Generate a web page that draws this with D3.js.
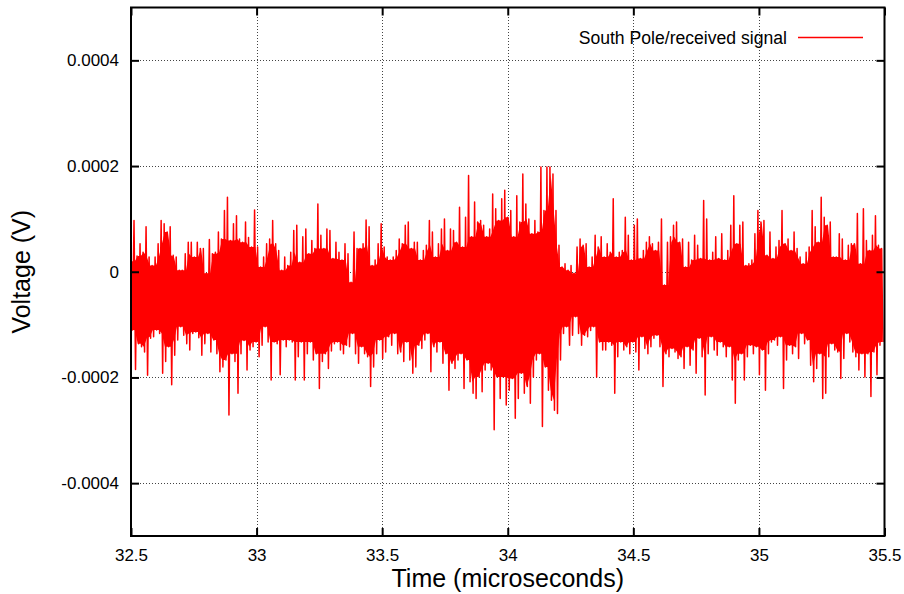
<!DOCTYPE html>
<html>
<head>
<meta charset="utf-8">
<script src="https://cdn.jsdelivr.net/npm/d3@7"></script>
<style>
    body { margin: 0; background: #fff; }
    svg { display: block; font-family: "Liberation Sans", Arial, sans-serif; }
    .grid line { stroke: #444; stroke-width: 1; stroke-dasharray: 1,2; shape-rendering: crispEdges; }
</style>
</head>
<body>
<svg id="chart" width="904" height="594"></svg>
<script>
// sampled waveform, read off the picture (microvolts)
// each pair = one local maximum followed by one local minimum
const timeStart = 32.5;
const timeEnd = 35.5;
const sampleStep = 0.006; // microseconds between samples

const peakUV = [
    20, 97, 30, 53, 37, 85, 28, 12, 28, 53, 97, 91, 75, 85, 31, 28, 3, 3, 34, 56, 56, 28, 56, 44, 44, -3, 61, 34, 37, 75, 62, 116,
    141, 59, 91, 106, 62, 56, 94, 65, 47, 117, 47, 9, 28, 53, 62, 97, 53, 40, 3, 28, 12, 37, 78, 88, 18, 66, 81, 34, 59, 44, 128,
    69, 44, 81, 78, 25, 56, 37, 22, 53, 34, -20, 75, 44, 44, 53, 98, 85, 12, 22, 53, 91, 47, 28, 22, 28, 40, 62, 53, 88, 94, 44,
    56, 56, 22, 40, 50, 97, 75, 28, 53, 81, 100, 40, 81, 78, 56, 122, 47, 103, 182, 66, 132, 94, 97, 88, 66, 81, 147, 119, 97, 138, 154,
    103, 116, 66, 144, 94, 185, 128, 100, 72, 97, 75, 198, 116, 198, 198, 185, 116, 50, 9, 15, 3, 12, -3, 47, 62, 50, 53, 9, 28, 69, 47, 66,
    28, 53, 37, 138, 28, 37, 40, 103, 69, 22, 88, 100, 25, 40, 56, 66, 53, 40, 56, 100, -25, 56, 66, 88, 94, 56, 62, 9, 56, 22, 69,
    50, 25, 135, 100, 22, 37, 66, 25, 72, 22, 40, 88, 144, 53, 88, 94, 12, 15, 22, 72, 116, 94, 97, 31, 75, 25, 47, 59, 116, 53, 62,
    40, 75, 44, 28, 15, 37, 47, 116, 85, 56, 141, 103, 88, 94, 28, 28, 72, 62, 22, 50, 53, 53, 110, 15, 119, 59, 40, 69, 106, 50, 44
];

const troughUV = [
    -110, -185, -136, -142, -152, -196, -126, -123, -110, -117, -192, -170, -142, -214, -158, -129, -104, -120, -136, -148, -117, -114, -125, -158, -136, -117, -152, -129, -155, -189, -180, -167,
    -271, -155, -170, -230, -155, -130, -186, -148, -142, -133, -161, -139, -104, -133, -205, -133, -136, -195, -129, -142, -129, -133, -205, -161, -133, -205, -155, -133, -167, -155, -221,
    -170, -155, -183, -150, -136, -133, -148, -155, -139, -142, -117, -155, -173, -142, -155, -161, -217, -180, -155, -129, -164, -152, -123, -139, -117, -155, -152, -170, -133, -167, -192,
    -180, -139, -145, -129, -117, -189, -142, -152, -133, -173, -155, -224, -173, -183, -167, -155, -221, -167, -208, -230, -240, -199, -227, -186, -173, -186, -299, -199, -240, -199, -252,
    -224, -202, -277, -240, -192, -230, -217, -249, -199, -167, -155, -293, -180, -224, -243, -262, -268, -167, -117, -104, -139, -120, -85, -117, -139, -120, -123, -111, -104, -199, -133, -148,
    -148, -133, -139, -230, -161, -133, -148, -142, -155, -133, -152, -186, -123, -145, -155, -142, -126, -120, -142, -217, -155, -161, -145, -152, -164, -161, -183, -142, -177, -148, -192,
    -126, -161, -233, -155, -123, -148, -158, -133, -142, -161, -142, -205, -249, -167, -155, -205, -161, -139, -155, -142, -195, -148, -224, -155, -133, -129, -139, -123, -221, -167, -139,
    -155, -142, -164, -117, -136, -129, -177, -208, -183, -155, -240, -230, -161, -136, -148, -152, -202, -164, -117, -133, -152, -161, -186, -155, -199, -155, -236, -152, -195, -139, -133
];

const xTicks = [32.5, 33, 33.5, 34, 34.5, 35, 35.5];
const yTicks = [-0.0004, -0.0002, 0, 0.0002, 0.0004];
const seriesLabel = "South Pole/received signal";
const xTitle = "Time (microseconds)";
const yTitle = "Voltage (V)";

// plot box
const plot = { left: 131, right: 884.5, top: 7.5, bottom: 536 };
const lineColor = "#ff0000";

const svg = d3.select("#chart");

const xScale = d3.scaleLinear()
    .domain([timeStart, timeEnd])
    .range([plot.left, plot.right]);

const yScale = d3.scaleLinear()
    .domain([-0.0005, 0.0005])
    .range([plot.bottom, plot.top]);

// build the time series from the max/min pairs
const signal = [];
peakUV.forEach((p, i) => {
    signal.push({ t: timeStart + 2 * i * sampleStep, v: p * 1e-6 });
    signal.push({ t: timeStart + (2 * i + 1) * sampleStep, v: troughUV[i] * 1e-6 });
});

// the dense core: where neighbouring oscillations always overlap
const core = peakUV.map((p, i) => {
    const lo = Math.max(i - 1, 0);
    const hi = Math.min(i + 2, peakUV.length);
    return {
        t: timeStart + (2 * i + 0.5) * sampleStep,
        top: d3.min(peakUV.slice(lo, hi)) * 1e-6,
        bottom: d3.max(troughUV.slice(lo, hi)) * 1e-6
    };
});

// grid
const grid = svg.append("g").attr("class", "grid");
grid.selectAll(".gx")
    .data(xTicks.slice(1, -1))
    .join("line")
    .attr("class", "gx")
    .attr("x1", d => Math.round(xScale(d)) + 0.5).attr("x2", d => Math.round(xScale(d)) + 0.5)
    .attr("y1", plot.top).attr("y2", plot.bottom);
grid.selectAll(".gy")
    .data(yTicks)
    .join("line")
    .attr("class", "gy")
    .attr("x1", plot.left).attr("x2", plot.right)
    .attr("y1", d => Math.round(yScale(d)) + 0.5).attr("y2", d => Math.round(yScale(d)) + 0.5);

// signal
svg.append("clipPath")
    .attr("id", "plot-clip")
    .append("rect")
    .attr("x", plot.left).attr("y", plot.top)
    .attr("width", plot.right - plot.left)
    .attr("height", plot.bottom - plot.top);

const signalLayer = svg.append("g").attr("clip-path", "url(#plot-clip)");

signalLayer.append("path")
    .datum(core)
    .attr("fill", lineColor)
    .attr("d", d3.area()
        .x(d => xScale(d.t))
        .y0(d => yScale(d.bottom))
        .y1(d => yScale(d.top)));

signalLayer.append("path")
    .datum(signal)
    .attr("fill", "none")
    .attr("stroke", lineColor)
    .attr("stroke-width", 1.5)
    .attr("stroke-linejoin", "round")
    .attr("d", d3.line()
        .x(d => xScale(d.t))
        .y(d => yScale(d.v)));

// axes, ticks pointing inward
const yFormat = d => d === 0 ? "0" : d.toFixed(4);

const leftAxis = svg.append("g")
    .attr("transform", `translate(${plot.left},0)`)
    .call(d3.axisLeft(yScale).tickValues(yTicks).tickFormat(yFormat)
        .tickSizeInner(-8).tickSizeOuter(0).tickPadding(12));

const rightAxis = svg.append("g")
    .attr("transform", `translate(${plot.right},0)`)
    .call(d3.axisRight(yScale).tickValues(yTicks).tickFormat("")
        .tickSizeInner(-8).tickSizeOuter(0));

const bottomAxis = svg.append("g")
    .attr("transform", `translate(0,${plot.bottom})`)
    .call(d3.axisBottom(xScale).tickValues(xTicks).tickFormat(d => String(d))
        .tickSizeInner(-8).tickSizeOuter(0).tickPadding(13));

const topAxis = svg.append("g")
    .attr("transform", `translate(0,${plot.top})`)
    .call(d3.axisTop(xScale).tickValues(xTicks).tickFormat("")
        .tickSizeInner(-8).tickSizeOuter(0));

[leftAxis, rightAxis, bottomAxis, topAxis].forEach(ax => {
    ax.select(".domain").remove();
    ax.selectAll(".tick line").attr("stroke", "#000").attr("stroke-width", 2);
    ax.selectAll(".tick text")
        .attr("fill", "#000")
        .style("font-family", "'Liberation Sans', Arial, sans-serif")
        .style("font-size", "17px");
});

// frame
svg.append("rect")
    .attr("x", plot.left).attr("y", plot.top)
    .attr("width", plot.right - plot.left)
    .attr("height", plot.bottom - plot.top)
    .attr("fill", "none")
    .attr("stroke", "#000")
    .attr("stroke-width", 2);

// axis titles
svg.append("text")
    .attr("x", (plot.left + plot.right) / 2)
    .attr("y", 587)
    .attr("text-anchor", "middle")
    .style("font-size", "25px")
    .text(xTitle);

svg.append("text")
    .attr("transform", `translate(30,${(plot.top + plot.bottom) / 2}) rotate(-90)`)
    .attr("text-anchor", "middle")
    .style("font-size", "25px")
    .text(yTitle);

// legend
const legend = svg.append("g").attr("class", "legend");
legend.append("text")
    .attr("x", 787)
    .attr("y", 37.5)
    .attr("text-anchor", "end")
    .attr("dominant-baseline", "central")
    .style("font-size", "17.6px")
    .text(seriesLabel);
legend.append("line")
    .attr("x1", 798).attr("x2", 863)
    .attr("y1", 37.5).attr("y2", 37.5)
    .attr("stroke", lineColor)
    .attr("stroke-width", 1.5);
</script>
</body>
</html>
